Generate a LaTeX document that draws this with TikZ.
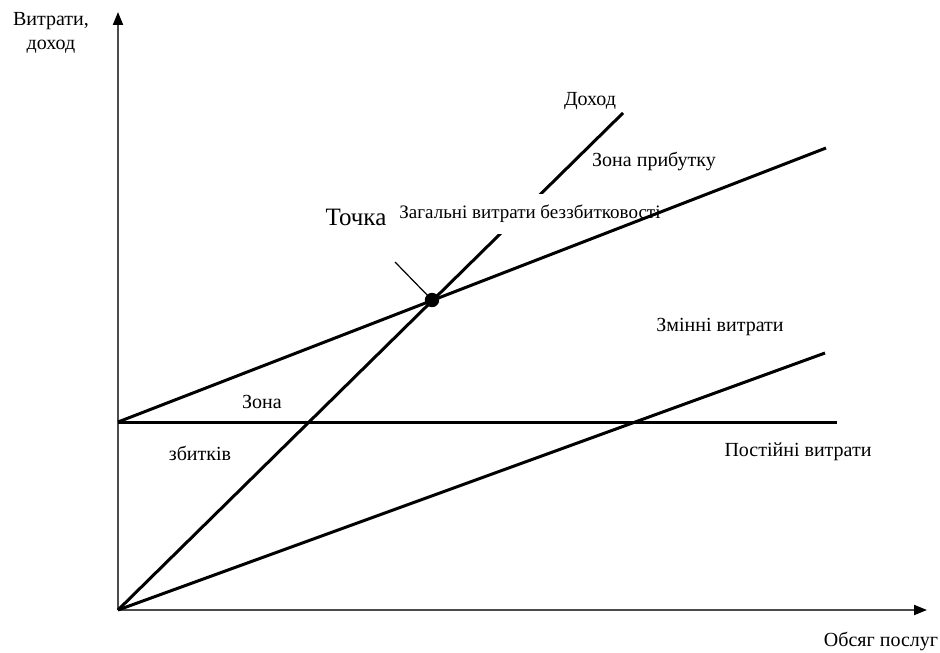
\documentclass[tikz,border=0pt]{standalone}
\usepackage{fontspec}
\setmainfont{Liberation Serif}
\usetikzlibrary{arrows.meta}
\begin{document}
\begin{tikzpicture}[x=0.5pt, y=-0.5pt]
    \tikzstyle{axis} = [draw=black!70, line width=1pt, -{Triangle[length=6.5pt, width=5pt, color=black]}]
    \tikzstyle{costline} = [draw=black, line width=1.5pt]
    \tikzstyle{lbl} = [font=\fontsize{10}{12}\selectfont, inner sep=1pt]

    \useasboundingbox (0,0) rectangle (940,652);

    % points of the chart
    \coordinate (origin) at (118,610);
    \coordinate (ytop) at (118,12);
    \coordinate (xend) at (927,610);
    \coordinate (fcleft) at (118,422);
    \coordinate (fcright) at (837,422);
    \coordinate (tcright) at (826,148);
    \coordinate (vcright) at (825,353);
    \coordinate (revtop) at (623,113);
    \coordinate (bep) at (432,300);
    \coordinate (bepnote) at (395,262);

    \draw[axis] (origin) -- (ytop);
    \draw[axis] (origin) -- (xend);

    \draw[costline] (origin) -- (revtop);
    \node[lbl, fill=white, font=\fontsize{9.5}{11}\selectfont, minimum height=20pt] (totallbl) at (530,214) {Загальні витрати беззбитковості};
    \draw[costline] (fcleft) -- (fcright);
    \draw[costline] (fcleft) -- (tcright);
    \draw[costline] (origin) -- (vcright);
    \draw[line width=0.6pt] (bepnote) -- (bep);
    \fill (bep) circle (3.6pt);

    \node[lbl, align=center] (ylbl) at (51,33) {Витрати,\\доход};
    \node[lbl] (xlbl) at (881,641) {Обсяг послуг};
    \node[lbl] (revlbl) at (590,101) {Доход};
    \node[lbl] (profitlbl) at (654,162) {Зона прибутку};
    \node[lbl, font=\fontsize{12.5}{14}\selectfont] (beplbl) at (356,217) {Точка};
    \node[lbl] (vclbl) at (720,327) {Змінні витрати};
    \node[lbl] (fclbl) at (798,452) {Постійні витрати};
    \node[lbl] (loss1) at (262,402) {Зона};
    \node[lbl] (loss2) at (200,453) {збитків};
\end{tikzpicture}
\end{document}
